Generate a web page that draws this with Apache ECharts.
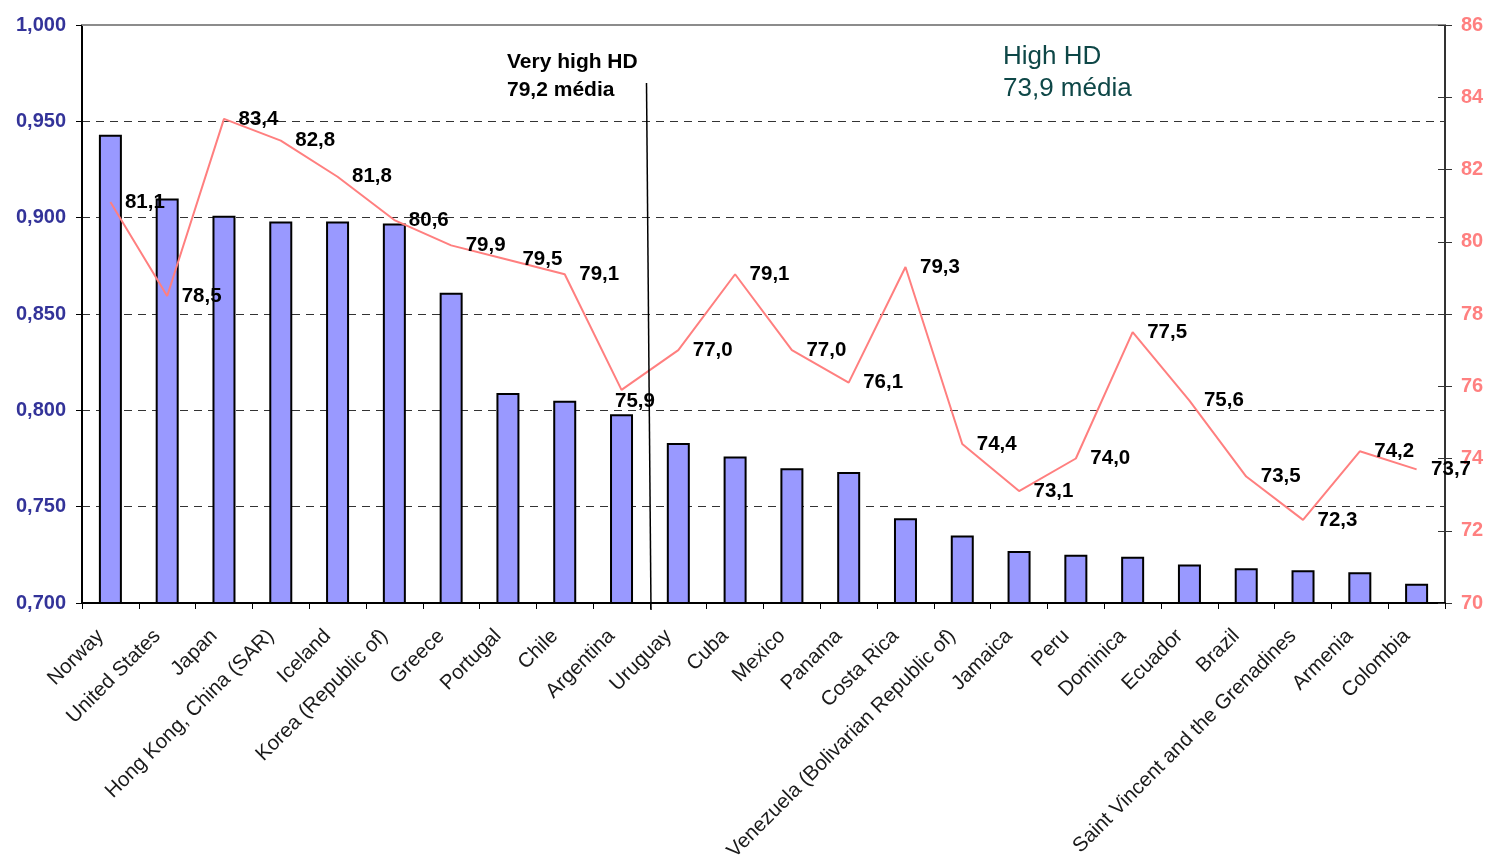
<!DOCTYPE html>
<html>
<head>
<meta charset="utf-8">
<title>HDI e esperança de vida</title>
<script src="https://cdn.jsdelivr.net/npm/echarts@6/dist/echarts.min.js"></script>
<style>
  html, body { margin: 0; padding: 0; background: #fff; }
  #chart { width: 1487px; height: 859px; }
</style>
</head>
<body>
<div id="chart"></div>
<script>
// Countries, ordered by HDI
const countries = [
  'Norway', 'United States', 'Japan', 'Hong Kong, China (SAR)', 'Iceland',
  'Korea (Republic of)', 'Greece', 'Portugal', 'Chile', 'Argentina',
  'Uruguay', 'Cuba', 'Mexico', 'Panama', 'Costa Rica',
  'Venezuela (Bolivarian Republic of)', 'Jamaica', 'Peru', 'Dominica', 'Ecuador',
  'Brazil', 'Saint Vincent and the Grenadines', 'Armenia', 'Colombia'
];

// Human development index (bars, left axis)
const hdiValues = [
  0.943, 0.910, 0.901, 0.898, 0.898,
  0.897, 0.861, 0.809, 0.805, 0.798,
  0.783, 0.776, 0.770, 0.768, 0.744,
  0.735, 0.727, 0.725, 0.724, 0.720,
  0.718, 0.717, 0.716, 0.710
];

// Life expectancy in years (line, right axis)
const lifeExpectancy = [
  81.1, 78.5, 83.4, 82.8, 81.8,
  80.6, 79.9, 79.5, 79.1, 75.9,
  77.0, 79.1, 77.0, 76.1, 79.3,
  74.4, 73.1, 74.0, 77.5, 75.6,
  73.5, 72.3, 74.2, 73.7
];

// Axis ranges
const hdiAxis = { min: 0.7, max: 1.0, step: 0.05 };
const lifeAxis = { min: 70, max: 86, step: 2 };

// Group annotations
const groupNotes = {
  veryHigh: ['Very high HD', '79,2 média'],
  high: ['High HD', '73,9 média']
};

const commaDecimal = (v, d) => v.toFixed(d).replace('.', ',');

const FONT = '"Liberation Sans", Arial, Helvetica, sans-serif';

const chart = echarts.init(document.getElementById('chart'), null, { renderer: 'canvas' });

const lineData = lifeExpectancy.map((v, i) => {
  // the Argentina label sits just under its point, clear of the divider line
  if (i === 9) {
    return {
      value: v,
      label: { position: [-6, 1], align: 'left', verticalAlign: 'top' }
    };
  }
  return v;
});

chart.setOption({
  animation: false,
  backgroundColor: '#ffffff',
  grid: {
    left: 82, right: 42, top: 25, bottom: 256,
    containLabel: false,
    outerBoundsMode: 'none'
  },
  xAxis: [
    {
      type: 'category',
      data: countries,
      position: 'bottom',
      axisLine: { show: true, lineStyle: { color: '#000', width: 2 } },
      axisTick: { show: true, alignWithLabel: false, length: 6, lineStyle: { color: '#000', width: 1 } },
      axisLabel: {
        interval: 0,
        rotate: 45,
        margin: 20,
        padding: [0, 14, 0, 0],
        color: '#1a1a1a',
        fontFamily: FONT,
        fontSize: 20.5
      },
      splitLine: { show: false }
    },
    {
      // plot frame top edge
      type: 'category',
      data: countries,
      position: 'top',
      axisLine: { show: true, lineStyle: { color: '#8c8c8c', width: 2 } },
      axisTick: { show: false },
      axisLabel: { show: false },
      splitLine: { show: false }
    }
  ],
  yAxis: [
    {
      type: 'value',
      position: 'left',
      min: hdiAxis.min,
      max: hdiAxis.max,
      interval: hdiAxis.step,
      axisLine: { show: true, lineStyle: { color: '#000', width: 2 } },
      axisTick: { show: true, length: 6, lineStyle: { color: '#000', width: 1 } },
      axisLabel: {
        margin: 16,
        color: '#333399',
        fontWeight: 'bold',
        fontFamily: FONT,
        fontSize: 20,
        formatter: v => commaDecimal(v, 3)
      },
      splitLine: {
        show: true,
        showMinLine: false,
        showMaxLine: false,
        lineStyle: { color: '#333', width: 1, type: [8, 6] }
      }
    },
    {
      type: 'value',
      position: 'right',
      min: lifeAxis.min,
      max: lifeAxis.max,
      interval: lifeAxis.step,
      axisLine: { show: true, lineStyle: { color: '#333', width: 2 } },
      axisTick: { show: true, length: 7, lineStyle: { color: '#333', width: 1 } },
      axisLabel: {
        margin: 16,
        color: '#ff8080',
        fontWeight: 'bold',
        fontFamily: FONT,
        fontSize: 20,
        formatter: v => String(v)
      },
      splitLine: { show: false }
    },
    {
      // inner half of the crossing ticks on the right axis
      type: 'value',
      position: 'right',
      min: lifeAxis.min,
      max: lifeAxis.max,
      interval: lifeAxis.step,
      axisLine: { show: false },
      axisTick: { show: true, inside: true, length: 7, lineStyle: { color: '#333', width: 1 } },
      axisLabel: { show: false },
      splitLine: { show: false }
    }
  ],
  series: [
    {
      name: 'HDI',
      type: 'bar',
      xAxisIndex: 0,
      yAxisIndex: 0,
      data: hdiValues,
      barWidth: 23,
      itemStyle: { color: '#9999ff', borderColor: '#000', borderWidth: 2 },
      z: 2
    },
    {
      name: 'Esperança de vida',
      type: 'line',
      xAxisIndex: 0,
      yAxisIndex: 1,
      data: lineData,
      symbol: 'circle',
      symbolSize: 1,
      showSymbol: true,
      lineStyle: { color: '#ff7f7f', width: 2 },
      itemStyle: { color: 'rgba(255,127,127,0)' },
      label: {
        show: true,
        position: 'right',
        distance: 14,
        color: '#000',
        fontWeight: 'bold',
        fontFamily: FONT,
        fontSize: 20.5,
        formatter: p => commaDecimal(p.value, 1)
      },
      labelLayout: { hideOverlap: false },
      z: 5
    }
  ],
  graphic: [
    {
      type: 'line',
      shape: { x1: 646.5, y1: 83, x2: 651, y2: 610 },
      style: { stroke: '#000', lineWidth: 1.5 },
      z: 10
    },
    {
      type: 'text',
      style: {
        x: 507, y: 62.5,
        text: groupNotes.veryHigh[0],
        font: 'bold 21px ' + FONT,
        fill: '#000',
        align: 'left',
        verticalAlign: 'middle'
      },
      z: 10
    },
    {
      type: 'text',
      style: {
        x: 507, y: 90,
        text: groupNotes.veryHigh[1],
        font: 'bold 21px ' + FONT,
        fill: '#000',
        align: 'left',
        verticalAlign: 'middle'
      },
      z: 10
    },
    {
      type: 'text',
      style: {
        x: 1003, y: 57,
        text: groupNotes.high[0],
        font: '26px ' + FONT,
        fill: '#0e4747',
        align: 'left',
        verticalAlign: 'middle'
      },
      z: 10
    },
    {
      type: 'text',
      style: {
        x: 1003, y: 89,
        text: groupNotes.high[1],
        font: '26px ' + FONT,
        fill: '#0e4747',
        align: 'left',
        verticalAlign: 'middle'
      },
      z: 10
    }
  ]
});
</script>
</body>
</html>
